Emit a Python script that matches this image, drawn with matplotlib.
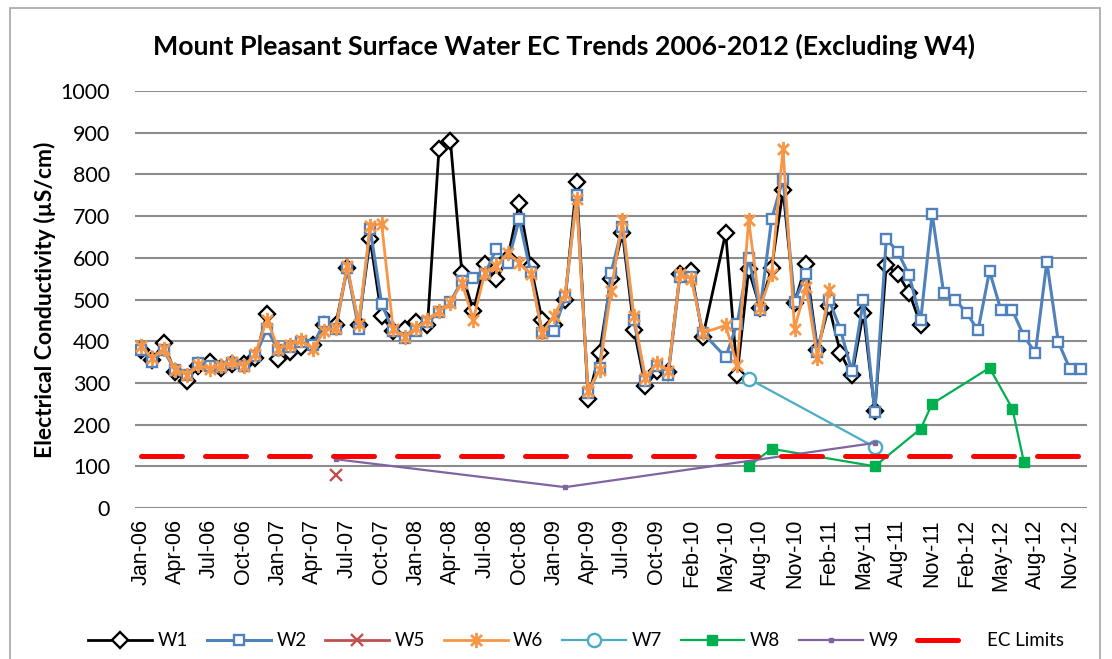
import numpy as np
import matplotlib
matplotlib.use("Agg")
import matplotlib.pyplot as plt
from matplotlib.path import Path
from matplotlib.patches import Rectangle

# ---------------- data ----------------
N_CAT = 83
tick_labels = ["Jan-06", "Apr-06", "Jul-06", "Oct-06", "Jan-07", "Apr-07", "Jul-07",
               "Oct-07", "Jan-08", "Apr-08", "Jul-08", "Oct-08", "Jan-09", "Apr-09",
               "Jul-09", "Oct-09", "Feb-10", "May-10", "Aug-10", "Nov-10", "Feb-11",
               "May-11", "Aug-11", "Nov-11", "Feb-12", "May-12", "Aug-12", "Nov-12"]

N = None
w1 = [380, 355, 395, 325, 305, 340, 350, 335, 345, 345, 360, 465, 358, 375, 385, 390,
      440, 440, 575, 440, 645, 460, 425, 430, 445, 438, 860, 880, 564, 472, 586, 548,
      600, 732, 580, 450, 440, 500, 782, 262, 372, 548, 660, 428, 292, 328, 325, 560,
      568, 410, N, 660, 320, 572, 480, 575, 762, 492, 584, 380, 484, 372, 318, 468,
      232, 582, 562, 516, 440] + [N] * 14
w2 = [380, 350, 378, 330, 318, 348, 340, 338, 348, 340, 365, 430, 378, 385, 398, 390,
      445, 430, 575, 430, 670, 490, 425, 408, 425, 445, 470, 495, 545, 552, 560, 622,
      588, 692, 565, 420, 424, 505, 750, 275, 335, 564, 675, 450, 305, 340, 320, 555,
      555, 420, N, 362, 442, 600, 476, 692, 790, 495, 560, 375, 500, 428, 328, 498,
      230, 646, 614, 558, 450, 705, 516, 500, 468, 426, 568, 474, 474, 412, 372, 590,
      398, 334, 334]
w6 = [388, 360, 382, 332, 320, 342, 334, 340, 350, 340, 370, 452, 382, 392, 402, 382,
      424, 432, 580, 442, 676, 682, 430, 410, 432, 450, 472, 492, 540, 452, 564, 580,
      612, 588, 560, 420, 460, 512, 740, 280, 332, 520, 690, 460, 312, 348, 328, 560,
      550, 420, N, 438, 342, 690, 480, 562, 862, 430, 530, 360, 522] + [N] * 22

w5_idx, w5_val = [17], [78]
w7_idx, w7_val = [53, 64], [310, 146]
w8_idx = [53, 55, 64, 68, 69, 74, 76, 77]
w8_val = [100, 142, 100, 190, 250, 336, 238, 110]
w9_idx, w9_val = [17, 37, 64], [117, 50, 156]
ec_limit = 125

# ---------------- style ----------------
BLACK = "#000000"
BLUE = "#4F81BD"
RED5 = "#C0504D"
ORANGE = "#F79646"
CYAN = "#4BACC6"
GREEN = "#00B050"
PURPLE = "#8064A2"

star = Path([(0, -1), (0, 1), (-0.72, -0.72), (0.72, 0.72), (-0.72, 0.72), (0.72, -0.72)],
            [Path.MOVETO, Path.LINETO] * 3)

fig = plt.figure(figsize=(11.12, 6.59), dpi=100)
fig.patches.append(Rectangle((10 / 1112, -0.02), 1090 / 1112, (659 - 8) / 659 + 0.02,
                             transform=fig.transFigure, fill=False,
                             edgecolor="#a6a6a6", lw=1.2))
ax = fig.add_axes([135 / 1112, 1 - 508 / 659, (1087 - 135) / 1112, (508 - 91) / 659])

x_all = np.arange(N_CAT)


def series(vals):
    arr = np.array([np.nan if v is None else v for v in vals], dtype=float)
    m = ~np.isnan(arr)
    return x_all[m], arr[m]


lines = []
x, y = series(w1)
lines.append(ax.plot(x, y, color=BLACK, lw=2.0, marker="D", ms=8.5, mfc="white",
                     mec=BLACK, mew=1.7, label="W1", zorder=3)[0])
x, y = series(w2)
lines.append(ax.plot(x, y, color=BLUE, lw=2.2, marker="s", ms=7, mfc="white",
                     mec=BLUE, mew=1.7, label="W2", zorder=4)[0])
lines.append(ax.plot(w5_idx, w5_val, color=RED5, lw=2.0, marker="x", ms=8,
                     mec=RED5, mew=1.7, label="W5", zorder=5)[0])
x, y = series(w6)
lines.append(ax.plot(x, y, color=ORANGE, lw=2.0, marker=star, ms=11, mfc="none",
                     mec=ORANGE, mew=2.0, label="W6", zorder=6)[0])
lines.append(ax.plot(w7_idx, w7_val, color=CYAN, lw=1.6, marker="o", ms=9.5, mfc="white",
                     mec=CYAN, mew=1.7, label="W7", zorder=7)[0])
lines.append(ax.plot(w8_idx, w8_val, color=GREEN, lw=1.6, marker="s", ms=7,
                     mfc=GREEN, mec=GREEN, label="W8", zorder=8)[0])
lines.append(ax.plot(w9_idx, w9_val, color=PURPLE, lw=1.6, marker="s", ms=3,
                     mfc=PURPLE, mec=PURPLE, label="W9", zorder=9)[0])
lines.append(ax.plot(x_all, [ec_limit] * N_CAT, color="#FF0000", lw=3.6,
                     dashes=(8.2, 4.6), dash_capstyle="round", label="EC Limits",
                     zorder=10)[0])

ax.set_xlim(-0.5, N_CAT - 0.5)
ax.set_ylim(0, 1000)
ax.set_yticks(np.arange(0, 1001, 100))
ax.set_xticks(np.arange(0, 3 * len(tick_labels), 3))
ax.set_xticklabels(tick_labels, rotation=90, fontsize=15.5, family="Liberation Sans")
for lab in ax.get_yticklabels():
    lab.set_fontfamily("Lato")
    lab.set_fontsize(15.5)
ax.tick_params(axis="both", length=0)
ax.tick_params(axis="x", pad=8)
ax.tick_params(axis="y", pad=18)
for s in ax.spines.values():
    s.set_visible(False)
ax.grid(axis="y", color="#8c8c8c", lw=1.5, zorder=0)
ax.set_axisbelow(True)

ax.set_ylabel("Electrical Conductivity (µS/cm)", fontsize=16.5, fontweight="bold",
              family="Lato", labelpad=3)
fig.text(564 / 1112, 1 - 46 / 659,
         "Mount Pleasant Surface Water EC Trends 2006-2012 (Excluding W4)",
         ha="center", va="center", fontsize=19.3, fontweight="bold", family="Lato")

leg = fig.legend(handles=lines, loc="center", bbox_to_anchor=(576 / 1112, 1 - 641 / 659),
                 ncol=8, frameon=False, handlelength=3.4, handletextpad=0.3,
                 columnspacing=1.0, prop={"family": "Lato", "size": 13.5})

fig.savefig("out.png", dpi=100)
